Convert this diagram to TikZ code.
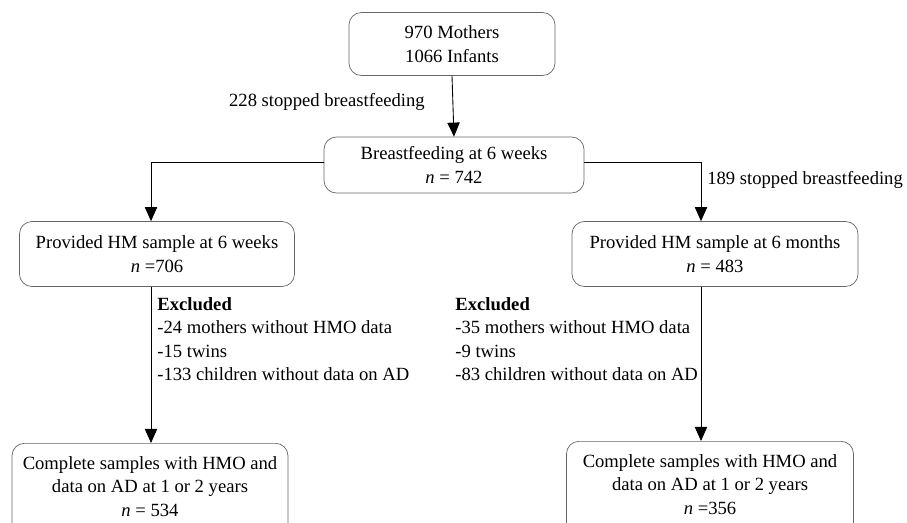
\documentclass[tikz,border=0pt]{standalone}
\usepackage{fontspec}
\setmainfont{Liberation Serif}
\usetikzlibrary{arrows.meta}
\tikzset{
  box/.style={draw=black!60, rounded corners=7pt, align=center, inner sep=0pt},
  flow/.style={-{Triangle[width=7pt,length=8pt]}, line width=0.5pt},
  note/.style={align=left, inner sep=0pt}
}
\begin{document}
\begin{tikzpicture}[x=0.02cm,y=-0.02cm,font=\fontsize{10.6}{13.3}\selectfont]
    \useasboundingbox (0,0) rectangle (907,522);
    % boxes
    \node [box, minimum width=4.12cm, minimum height=1.26cm] (mothers) at (452,44) {970 Mothers\\1066 Infants};
    \node [box, minimum width=5.2cm, minimum height=1.12cm] (bf6w) at (454,165) {Breastfeeding at 6 weeks\\\textit{n} = 742};
    \node [box, minimum width=5.5cm, minimum height=1.3cm] (hm6w) at (157,254) {Provided HM sample at 6 weeks\\\textit{n} =706};
    \node [box, minimum width=5.72cm, minimum height=1.3cm] (hm6m) at (715,254) {Provided HM sample at 6 months\\\textit{n} = 483};
    \node [box, minimum width=5.52cm, inner ysep=0.26cm, anchor=north] (comp6w) at (150,443) {Complete samples with HMO and\\data on AD at 1 or 2 years\\\textit{n} = 534\\[2pt]};
    \node [box, minimum width=5.74cm, inner ysep=0.26cm, anchor=north] (comp6m) at (710,441) {Complete samples with HMO and\\data on AD at 1 or 2 years\\\textit{n} =356\\[2pt]};
    % columns of the side arrows
    \coordinate (lcol) at (151,162);
    \coordinate (rcol) at (701,162);
    % connectors
    \draw [flow] (mothers.south) -- (bf6w.north);
    \draw [line width=0.5pt] (bf6w.west |- lcol) -- (lcol);
    \draw [flow] (lcol) -- (lcol |- hm6w.north);
    \draw [line width=0.5pt] (bf6w.east |- rcol) -- (rcol);
    \draw [flow] (rcol) -- (rcol |- hm6m.north);
    \draw [flow] (lcol |- hm6w.south) -- (lcol |- comp6w.north);
    \draw [flow] (rcol |- hm6m.south) -- (rcol |- comp6m.north);
    % labels
    \node [anchor=east, inner sep=0pt] (stop1) at (425,102) {228 stopped breastfeeding};
    \node [anchor=west, inner sep=0pt] (stop2) at (707,180) {189 stopped breastfeeding};
    \node [note, anchor=north west] (excl1) at (157,297) {\textbf{Excluded}\\-24 mothers without HMO data\\-15 twins\\-133 children without data on AD};
    \node [note, anchor=north west] (excl2) at (455,297) {\textbf{Excluded}\\-35 mothers without HMO data\\-9 twins\\-83 children without data on AD};
\end{tikzpicture}
\end{document}
